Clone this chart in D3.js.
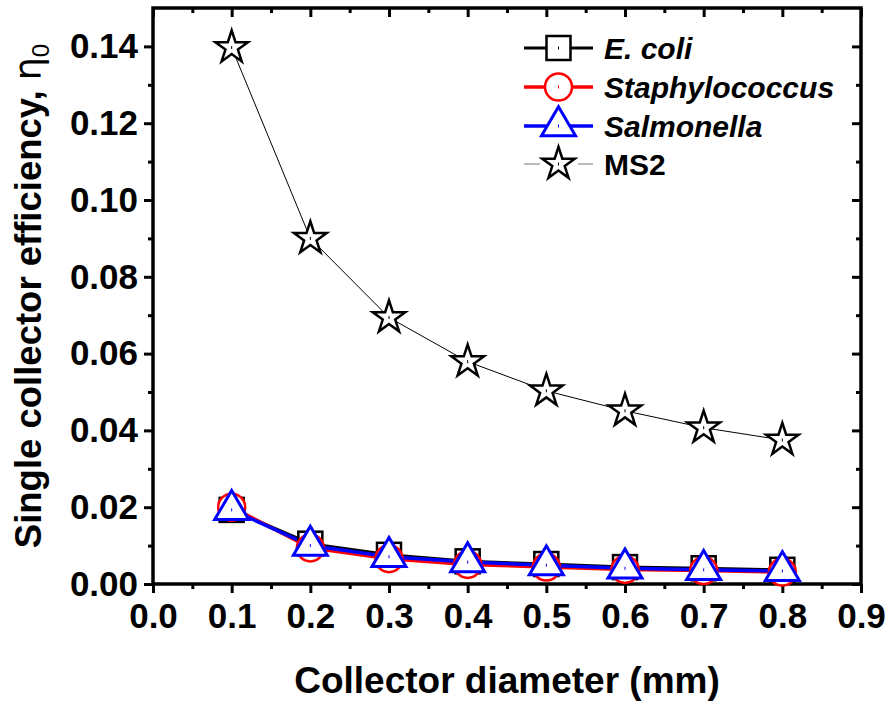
<!DOCTYPE html>
<html>
<head>
<meta charset="utf-8">
<script src="https://cdn.jsdelivr.net/npm/d3@7"></script>
<style>
  html, body { margin: 0; padding: 0; background: #fff; }
  svg text { font-family: "Liberation Sans", Arial, sans-serif; font-weight: bold; }
</style>
</head>
<body>
<svg id="chart" width="890" height="704"></svg>
<script>
const diameters = [0.1, 0.2, 0.3, 0.4, 0.5, 0.6, 0.7, 0.8];
const ecoli = [0.0193, 0.0105, 0.0076, 0.0059, 0.0052, 0.0044, 0.0041, 0.0037];
const staph = [0.0200, 0.0094, 0.0066, 0.0051, 0.0044, 0.0038, 0.0035, 0.0031];
const salmonella = [0.0193, 0.0100, 0.0071, 0.0057, 0.0049, 0.0041, 0.0037, 0.0034];
const ms2 = [0.1397, 0.0900, 0.0694, 0.0579, 0.0503, 0.0451, 0.0407, 0.0375];
const xTicks = [0.0, 0.1, 0.2, 0.3, 0.4, 0.5, 0.6, 0.7, 0.8, 0.9];
const yTicks = [0.00, 0.02, 0.04, 0.06, 0.08, 0.10, 0.12, 0.14];
const seriesNames = ["E. coli", "Staphylococcus", "Salmonella", "MS2"];

const svg = d3.select("#chart");
const L = 153, R = 861, T = 8, B = 584;
const x = d3.scaleLinear().domain([0, 0.9]).range([L, R]);
const y = d3.scaleLinear().domain([0, 0.15]).range([B, T]);

const xMinor = d3.range(0.05, 0.9, 0.1);
const yMinor = d3.range(0.01, 0.15, 0.02);

// Bottom axis
svg.append("g").attr("transform", `translate(0,${B})`)
  .call(d3.axisBottom(x).tickValues(xTicks).tickFormat(d3.format(".1f")).tickSize(9).tickPadding(10));
svg.append("g").attr("transform", `translate(0,${B})`)
  .call(d3.axisBottom(x).tickValues(xMinor).tickFormat("").tickSize(5));
// Left axis
svg.append("g").attr("transform", `translate(${L},0)`)
  .call(d3.axisLeft(y).tickValues(yTicks).tickFormat(d3.format(".2f")).tickSize(9).tickPadding(6));
svg.append("g").attr("transform", `translate(${L},0)`)
  .call(d3.axisLeft(y).tickValues(yMinor).tickFormat("").tickSize(5));
// Top axis (inward)
svg.append("g").attr("transform", `translate(0,${T})`)
  .call(d3.axisTop(x).tickValues(xTicks).tickFormat("").tickSize(-9));
svg.append("g").attr("transform", `translate(0,${T})`)
  .call(d3.axisTop(x).tickValues(xMinor).tickFormat("").tickSize(-5));
// Right axis (inward)
svg.append("g").attr("transform", `translate(${R},0)`)
  .call(d3.axisRight(y).tickValues(yTicks).tickFormat("").tickSize(-9));
svg.append("g").attr("transform", `translate(${R},0)`)
  .call(d3.axisRight(y).tickValues(yMinor).tickFormat("").tickSize(-5));

svg.selectAll(".domain").remove();
svg.selectAll(".tick line").attr("stroke", "#000").attr("stroke-width", 3);
svg.selectAll(".tick text").attr("fill", "#000").style("font-size", "35px");

svg.append("rect").attr("x", L).attr("y", T).attr("width", R - L).attr("height", B - T)
  .attr("fill", "none").attr("stroke", "#000").attr("stroke-width", 3.5);

// Axis titles
svg.append("text").attr("x", 507).attr("y", 693).attr("text-anchor", "middle")
  .style("font-size", "37px").text("Collector diameter (mm)");
const yt = svg.append("text").attr("transform", `translate(41,296) rotate(-90)`)
  .attr("text-anchor", "middle").style("font-size", "36.5px");
yt.append("tspan").text("Single collector efficiency, ");
yt.append("tspan").style("font-weight", "normal").style("font-family", "'DejaVu Sans', sans-serif").text("\u03B7");
yt.append("tspan").attr("dy", 8).style("font-size", "24px").style("font-weight", "normal").text("0");

// Marker helpers
const starPath = d3.symbol().type(d3.symbolStar).size(330)();
const sq = 24, circR = 13.5;
const triPath = (() => { const w = 34, h = 29; return `M0,${-h * 2 / 3}L${w / 2},${h / 3}L${-w / 2},${h / 3}Z`; })();

function drawMarker(g, type, color) {
  if (type === "square") {
    g.append("rect").attr("x", -sq / 2).attr("y", -sq / 2).attr("width", sq).attr("height", sq)
      .attr("fill", "#fff").attr("stroke", color).attr("stroke-width", 2.5);
  } else if (type === "circle") {
    g.append("circle").attr("r", circR).attr("fill", "#fff").attr("stroke", color).attr("stroke-width", 2.5);
  } else if (type === "triangle") {
    g.append("path").attr("d", triPath).attr("fill", "#fff").attr("stroke", color).attr("stroke-width", 3)
      .attr("stroke-linejoin", "miter");
  } else if (type === "star") {
    g.append("path").attr("d", starPath).attr("fill", "#fff").attr("stroke", color).attr("stroke-width", 2.5)
      .attr("stroke-linejoin", "miter");
  }
  g.append("rect").attr("x", -0.5).attr("y", -1.5).attr("width", 1).attr("height", 3).attr("fill", color);
}

const series = [
  { name: seriesNames[0], values: ecoli, color: "#000", lw: 3, marker: "square", italic: true },
  { name: seriesNames[1], values: staph, color: "#ff0000", lw: 3.5, marker: "circle", italic: true },
  { name: seriesNames[2], values: salmonella, color: "#0000ff", lw: 3.5, marker: "triangle", italic: true },
  { name: seriesNames[3], values: ms2, color: "#000", lw: 1, marker: "star", italic: false }
];

const line = d3.line().x((d, i) => x(diameters[i])).y(d => y(d));

const drawOrder = [3, 0, 1, 2];
drawOrder.forEach(k => {
  const s = series[k];
  svg.append("path").datum(s.values).attr("d", line).attr("fill", "none")
    .attr("stroke", s.color).attr("stroke-width", s.lw);
});
drawOrder.forEach(k => {
  const s = series[k];
  s.values.forEach((v, i) => {
    const g = svg.append("g").attr("transform", `translate(${x(diameters[i])},${y(v)})`);
    drawMarker(g, s.marker, s.color);
  });
});

// Legend
const legY = [48, 87, 126, 164];
series.forEach((s, i) => {
  const yy = legY[i];
  svg.append("line").attr("x1", 524).attr("x2", 593).attr("y1", yy).attr("y2", yy)
    .attr("stroke", i === 3 ? "#777" : s.color).attr("stroke-width", i === 3 ? 1.2 : s.lw);
  if (i === 3) {
    svg.append("rect").attr("x", 540).attr("y", yy - 3).attr("width", 38).attr("height", 6).attr("fill", "#fff");
  }
  const g = svg.append("g").attr("transform", `translate(558.5,${yy})`);
  drawMarker(g, s.marker, s.color);
  svg.append("text").attr("x", 604).attr("y", yy + 11).style("font-size", "30px")
    .style("font-style", s.italic ? "italic" : "normal").text(s.name);
});
</script>
</body>
</html>
